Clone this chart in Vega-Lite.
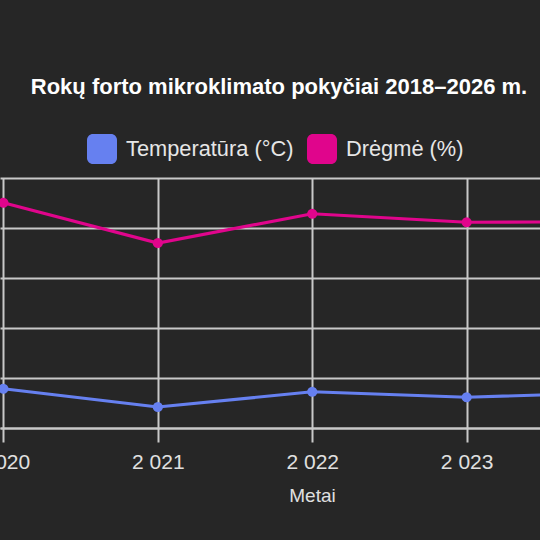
{
  "$schema": "https://vega.github.io/schema/vega-lite/v6.json",
  "width": 540,
  "height": 250,
  "autosize": {"type": "none"},
  "padding": {"top": 178, "left": 0, "right": 0, "bottom": 112},
  "background": "#262626",
  "title": {
    "text": "Rokų forto mikroklimato pokyčiai 2018–2026 m.",
    "font": "Liberation Sans",
    "fontSize": 22,
    "fontWeight": "bold",
    "color": "#ffffff",
    "anchor": "middle",
    "dx": 9,
    "offset": 35
  },
  "config": {
    "view": {"stroke": null},
    "font": "Liberation Sans"
  },
  "data": {
    "values": [
      {"metai": 2020, "serija": "Temperatūra (°C)", "reiksme": 15.7},
      {"metai": 2021, "serija": "Temperatūra (°C)", "reiksme": 8.4},
      {"metai": 2022, "serija": "Temperatūra (°C)", "reiksme": 14.5},
      {"metai": 2023, "serija": "Temperatūra (°C)", "reiksme": 12.3},
      {"metai": 2024, "serija": "Temperatūra (°C)", "reiksme": 14.2},
      {"metai": 2020, "serija": "Drėgmė (%)", "reiksme": 90.1},
      {"metai": 2021, "serija": "Drėgmė (%)", "reiksme": 74.0},
      {"metai": 2022, "serija": "Drėgmė (%)", "reiksme": 85.7},
      {"metai": 2023, "serija": "Drėgmė (%)", "reiksme": 82.3},
      {"metai": 2024, "serija": "Drėgmė (%)", "reiksme": 82.5}
    ]
  },
  "mark": {
    "type": "line",
    "strokeWidth": 3.2,
    "clip": true,
    "point": {"filled": true, "size": 105}
  },
  "encoding": {
    "x": {
      "field": "metai",
      "type": "quantitative",
      "scale": {"domain": [2019.978, 2023.475], "nice": false, "zero": false},
      "axis": {
        "values": [2020, 2021, 2022, 2023],
        "labelExpr": "replace(format(datum.value, ','), ',', '\u00a0')",
        "labelFlush": false,
        "labelOverlap": false,
        "labelFont": "Liberation Sans",
        "labelFontSize": 21,
        "labelColor": "#e0e0e0",
        "labelPadding": 9,
        "tickSize": 14,
        "tickColor": "#c8c8c8",
        "tickWidth": 2,
        "domainColor": "#c8c8c8",
        "domainWidth": 2,
        "grid": true,
        "gridColor": "#c8c8c8",
        "gridWidth": 2,
        "title": "Metai",
        "titleFont": "Liberation Sans",
        "titleFontSize": 19,
        "titleFontWeight": "normal",
        "titleColor": "#e0e0e0",
        "titlePadding": 14,
        "titleX": 312
      }
    },
    "y": {
      "field": "reiksme",
      "type": "quantitative",
      "scale": {"domain": [0, 100], "nice": false},
      "axis": {
        "values": [0, 20, 40, 60, 80, 100],
        "labels": false,
        "ticks": false,
        "domain": false,
        "title": null,
        "grid": true,
        "gridColor": "#c8c8c8",
        "gridWidth": 2
      }
    },
    "color": {
      "field": "serija",
      "type": "nominal",
      "scale": {
        "domain": ["Temperatūra (°C)", "Drėgmė (%)"],
        "range": ["#6680f0", "#e0058c"]
      },
      "legend": {
        "title": null,
        "orient": "none",
        "legendX": 87,
        "legendY": -44,
        "direction": "horizontal",
        "padding": 0,
        "symbolType": "M-0.6,-1H0.6A0.4,0.4,0,0,1,1,-0.6V0.6A0.4,0.4,0,0,1,0.6,1H-0.6A0.4,0.4,0,0,1,-1,0.6V-0.6A0.4,0.4,0,0,1,-0.6,-1Z",
        "symbolSize": 900,
        "symbolStrokeWidth": 0,
        "labelFont": "Liberation Sans",
        "labelFontSize": 21.8,
        "labelColor": "#e6e6e6",
        "labelOffset": 9,
        "columnPadding": 13,
        "labelLimit": 400,
        "encode": {
          "symbols": {
            "update": {
              "fill": {"scale": "color", "field": "value"},
              "opacity": {"value": 1}
            }
          }
        }
      }
    }
  }
}
